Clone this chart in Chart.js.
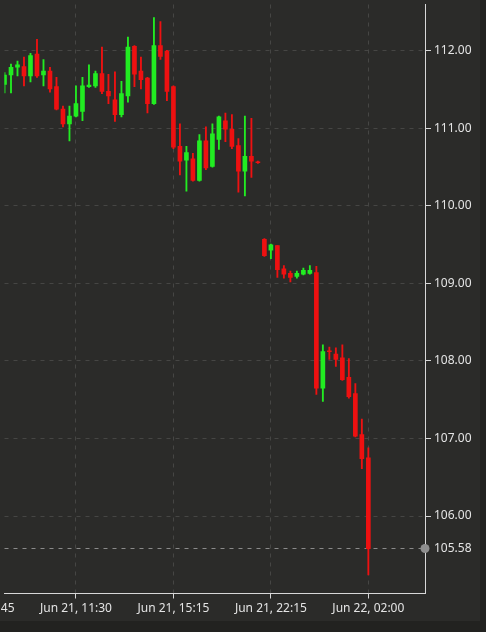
<!DOCTYPE html>
<html>
<head>
<meta charset="utf-8">
<script src="https://cdn.jsdelivr.net/npm/chart.js@4.4.1/dist/chart.umd.min.js"></script>
<style>
  html, body { margin: 0; padding: 0; background: #222220; }
  #wrap { width: 480px; height: 621px; background: #2b2b29; }
</style>
</head>
<body>
<div id="wrap"><canvas id="candles" width="480" height="621"></canvas></div>
<script>
// 15 minute candles (index = candle slot)
const opens  = [111.57, 111.69, 111.79, 111.80, 111.68, 111.96, 111.69, 111.74, 111.54, 111.25,
                111.06, 111.16, 111.22, 111.54, 111.55, 111.71, 111.48, 111.37, 111.18, 111.42,
                112.06, 111.74, 111.65, 111.32, 112.07, 112.00, 111.54, 110.77, 110.59, 110.61,
                110.33, 110.84, 110.51, 110.86, 111.10, 110.99, 110.78, 110.45, 110.64, 110.57,
                109.57, 109.43, 109.49, 109.19, 109.13, 109.09, 109.12, 109.13, 109.14, 107.65,
                108.13, 108.09, 108.04, 107.79, 107.58, 107.05, 106.75];
const highs  = [111.72, 111.83, 111.87, 111.92, 111.97, 112.15, 111.89, 111.79, 111.66, 111.29,
                111.29, 111.55, 111.66, 111.82, 111.74, 112.05, 111.70, 111.73, 111.61, 112.18,
                112.07, 111.92, 111.66, 112.43, 112.38, 112.01, 111.55, 111.06, 110.77, 110.68,
                110.92, 111.02, 111.06, 111.16, 111.20, 111.18, 110.87, 111.16, 111.13, 110.58,
                109.58, 109.51, 109.49, 109.23, 109.16, 109.16, 109.20, 109.23, 109.22, 108.21,
                108.18, 108.17, 108.21, 108.03, 107.71, 107.25, 106.88];
const lows   = [111.46, 111.46, 111.68, 111.55, 111.60, 111.66, 111.55, 111.47, 111.24, 111.02,
                110.84, 111.15, 111.10, 111.53, 111.53, 111.45, 111.32, 111.09, 111.15, 111.34,
                111.54, 111.51, 111.20, 111.31, 111.89, 111.36, 110.74, 110.40, 110.19, 110.32,
                110.32, 110.47, 110.50, 110.73, 110.83, 110.74, 110.18, 110.13, 110.37, 110.55,
                109.35, 109.32, 109.08, 109.07, 109.02, 109.07, 109.11, 109.12, 107.57, 107.48,
                108.02, 107.93, 107.75, 107.52, 107.02, 106.61, 105.24];
const closes = [111.69, 111.79, 111.82, 111.68, 111.94, 111.68, 111.74, 111.51, 111.25, 111.06,
                111.16, 111.32, 111.55, 111.56, 111.71, 111.48, 111.42, 111.18, 111.45, 112.05,
                111.70, 111.63, 111.32, 112.07, 111.93, 111.48, 110.76, 110.58, 110.69, 110.33,
                110.84, 110.49, 110.93, 111.15, 110.99, 110.77, 110.45, 110.64, 110.58, 110.56,
                109.36, 109.50, 109.18, 109.12, 109.08, 109.13, 109.17, 109.17, 107.65, 108.12,
                108.12, 108.02, 107.76, 107.54, 107.03, 106.74, 105.58];

const lastPrice = 105.58;

// x axis labels sit on candle slots
const xTickSlots  = [-4, 11, 26, 41, 56];
const xTickLabels = ['Jun 21, 07:45', 'Jun 21, 11:30', 'Jun 21, 15:15', 'Jun 21, 22:15', 'Jun 22, 02:00'];
const yTickValues = [105.58, 106, 107, 108, 109, 110, 111, 112];

const UP = '#22ec22';
const DOWN = '#ee1111';
const X_MAX = 64.72;

const colors = opens.map((o, i) => closes[i] >= o ? UP : DOWN);
const wicks = opens.map((o, i) => ({ x: i, y: [lows[i], highs[i]] }));
const bodies = opens.map((o, i) => {
  let lo = Math.min(o, closes[i]), hi = Math.max(o, closes[i]);
  if (hi - lo < 0.01) hi = lo + 0.01; // keep dojis visible
  return { x: i, y: [lo, hi] };
});

const font = { family: 'Noto Sans', size: 12 };

new Chart(document.getElementById('candles'), {
  type: 'bar',
  data: {
    datasets: [
      {
        data: wicks,
        backgroundColor: colors,
        barThickness: 1.2,
        grouped: false
      },
      {
        data: bodies,
        backgroundColor: colors,
        barThickness: 4,
        grouped: false
      },
      {
        // marker for the last price on the axis
        type: 'scatter',
        data: [{ x: X_MAX, y: lastPrice }],
        pointRadius: 4.5,
        pointBackgroundColor: '#8e8e8e',
        pointBorderWidth: 0,
        clip: false
      }
    ]
  },
  options: {
    responsive: false,
    animation: false,
    layout: { padding: 0 },
    plugins: {
      legend: { display: false },
      tooltip: { enabled: false }
    },
    scales: {
      x: {
        type: 'linear',
        min: 0,
        max: X_MAX,
        offset: false,
        afterBuildTicks: scale => {
          scale.ticks = xTickSlots.map(v => ({ value: v }));
        },
        afterFit: scale => {
          scale.height = 27.5;
          scale.paddingLeft = 0;
          scale.paddingRight = 0;
        },
        ticks: {
          autoSkip: false,
          maxRotation: 0,
          padding: 3,
          color: '#e4e4e4',
          font: font,
          callback: v => xTickLabels[xTickSlots.indexOf(v)]
        },
        grid: {
          offset: false,
          color: '#464644',
          tickColor: '#d8d8d8',
          tickLength: 5
        },
        border: { color: '#d8d8d8', width: 1, dash: [4, 5] }
      },
      y: {
        position: 'right',
        min: 105.0,
        max: 112.6,
        afterBuildTicks: scale => {
          scale.ticks = yTickValues.map(v => ({ value: v }));
        },
        afterFit: scale => {
          scale.width = 55;
          scale.paddingTop = 0;
          scale.paddingBottom = 0;
        },
        ticks: {
          autoSkip: false,
          padding: 3,
          color: '#e4e4e4',
          font: font,
          callback: v => v.toFixed(2)
        },
        grid: {
          color: ctx => (ctx.tick && ctx.tick.value === lastPrice) ? '#8a8a8a' : '#464644',
          tickColor: ctx => (ctx.tick && ctx.tick.value === lastPrice) ? 'rgba(0,0,0,0)' : '#d8d8d8',
          tickLength: 6
        },
        border: { color: '#d8d8d8', width: 1, dash: [4, 5] }
      }
    }
  }
});
</script>
</body>
</html>
